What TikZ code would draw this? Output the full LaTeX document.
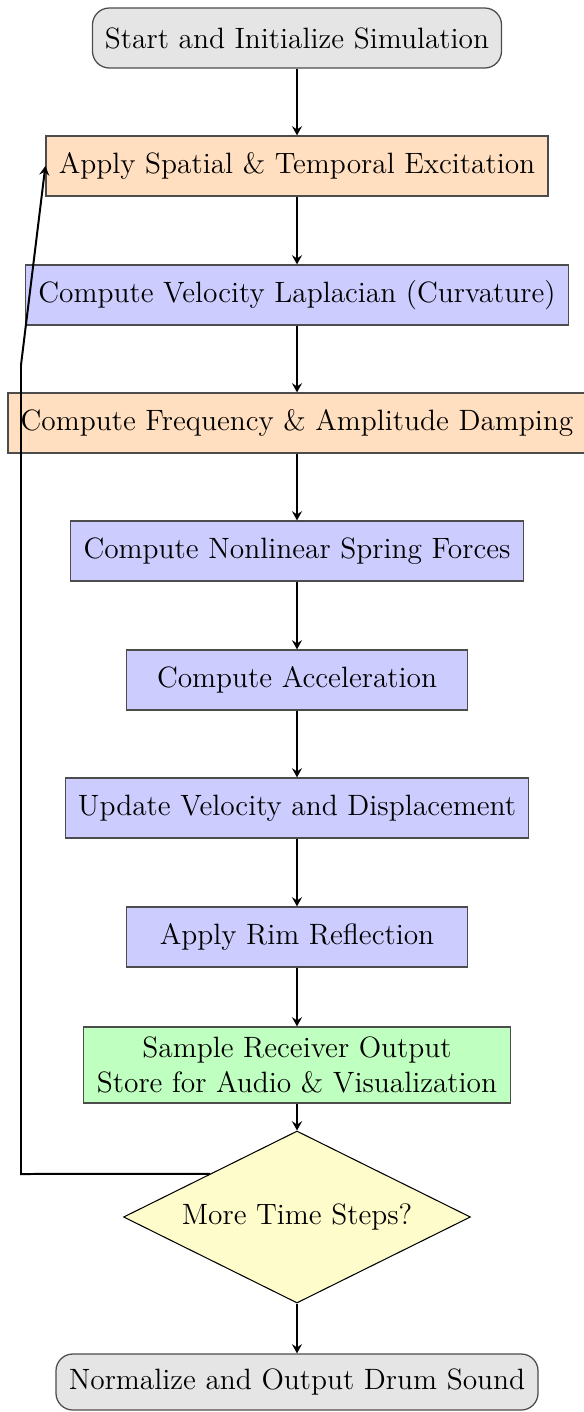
\documentclass[tikz,border=0pt]{standalone}
\usetikzlibrary{shapes.geometric,arrows.meta}
\def\px{0.476pt}
\tikzset{
  base/.style={draw=black!70, line width=0.6pt, minimum height=60*\px, inner sep=0pt, font=\fontsize{14pt}{17pt}\selectfont, align=center},
  startstop/.style={base, rounded corners=8pt, fill=gray!20},
  excite/.style={base, fill=orange!25},
  proc/.style={base, fill=blue!20},
  store/.style={base, fill=green!25},
  decision/.style={diamond, draw=black, line width=0.5pt, fill=yellow!20, aspect=2, font=\fontsize{14pt}{17pt}\selectfont, inner sep=0pt, minimum width=347*\px, minimum height=172*\px},
  arr/.style={-{Stealth[length=4.4pt,width=4.8pt,inset=1.6pt]}, line width=0.95pt}
}
\begin{document}
\begin{tikzpicture}[x=\px, y=-\px]
\useasboundingbox (0,0) rectangle (584,1412);
\node[startstop, minimum width=409*\px] (start) at (297,38) {Start and Initialize Simulation};
\node[excite, minimum width=502*\px] (exc) at (297,166) {Apply Spatial \& Temporal Excitation};
\node[proc, minimum width=543*\px] (lap) at (297,295) {Compute Velocity Laplacian (Curvature)};
\node[excite, minimum width=578*\px] (damp) at (297,423) {Compute Frequency \& Amplitude Damping};
\node[proc, minimum width=453*\px] (spring) at (297,551) {Compute Nonlinear Spring Forces};
\node[proc, minimum width=341*\px] (acc) at (297,680) {Compute Acceleration};
\node[proc, minimum width=463*\px] (upd) at (297,808) {Update Velocity and Displacement};
\node[proc, minimum width=341*\px] (rim) at (297,937) {Apply Rim Reflection};
\node[store, minimum width=427*\px, minimum height=76*\px] (samp) at (297,1065) {Sample Receiver Output\\Store for Audio \& Visualization};
\node[decision] (dec) at (297,1217) {More Time Steps?};
\node[startstop, minimum width=482*\px, minimum height=56*\px] (fin) at (297,1382) {Normalize and Output Drum Sound};
\draw[arr] (start) -- (exc);
\draw[arr] (exc) -- (lap);
\draw[arr] (lap) -- (damp);
\draw[arr] (damp) -- (spring);
\draw[arr] (spring) -- (acc);
\draw[arr] (acc) -- (upd);
\draw[arr] (upd) -- (rim);
\draw[arr] (rim) -- (samp);
\draw[arr] (samp) -- (dec);
\draw[arr] (dec) -- (fin);
\coordinate (l1) at (21,1174);
\coordinate (l2) at (21,365);
\draw[arr] (dec.north west) -- (l1) -- (l2) -- (exc.west);
\end{tikzpicture}
\end{document}
